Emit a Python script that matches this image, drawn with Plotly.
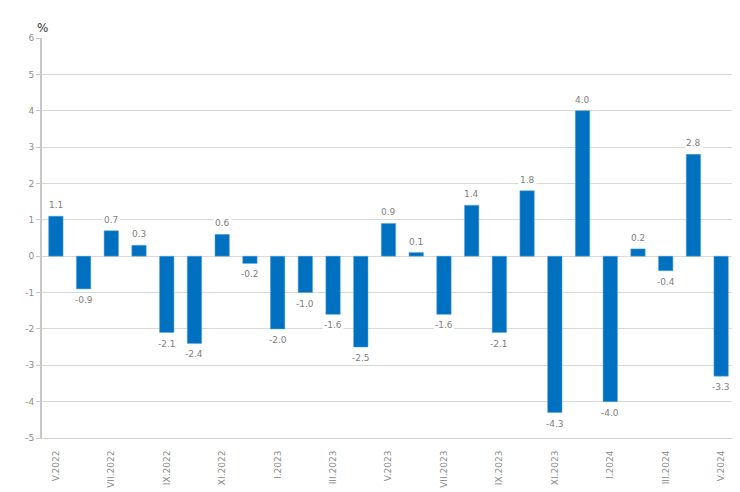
import plotly.graph_objects as go

months = ["V.2022", "VI.2022", "VII.2022", "VIII.2022", "IX.2022", "X.2022", "XI.2022", "XII.2022",
          "I.2023", "II.2023", "III.2023", "IV.2023", "V.2023", "VI.2023", "VII.2023", "VIII.2023",
          "IX.2023", "X.2023", "XI.2023", "XII.2023", "I.2024", "II.2024", "III.2024", "IV.2024", "V.2024"]
values = [1.1, -0.9, 0.7, 0.3, -2.1, -2.4, 0.6, -0.2, -2.0, -1.0, -1.6, -2.5, 0.9, 0.1, -1.6, 1.4,
          -2.1, 1.8, -4.3, 4.0, -4.0, 0.2, -0.4, 2.8, -3.3]
shown_ticks = months[::2]
y_ticks = list(range(-5, 7))

grey = "#8c8c8c"
fig = go.Figure()
fig.add_trace(go.Bar(x=months, y=values, marker=dict(color="#0070c0", line=dict(color="#5aa6dc", width=0.5)),
                     width=0.52, hoverinfo="x+y"))

for m, v in zip(months, values):
    fig.add_annotation(x=m, y=v, text=f"{v:.1f}", showarrow=False, yshift=11 if v >= 0 else -11,
                       font=dict(family="DejaVu Sans", size=9, color="#808080"),
                       bgcolor="white", borderpad=1)

fig.add_annotation(xref="paper", yref="paper", x=0.0, y=1.0, xanchor="center", yshift=19, text="%",
                   showarrow=False, font=dict(family="DejaVu Sans", size=12, color="#333"))

fig.update_layout(width=740, height=492, margin=dict(l=34, r=13, t=30, b=58),
                  plot_bgcolor="white", paper_bgcolor="white", showlegend=False)
fig.update_yaxes(range=[-5, 6], tickmode="array", tickvals=y_ticks, ticktext=[str(t) for t in y_ticks],
                 showgrid=True, gridcolor="#d9d9d9", gridwidth=1,
                 zeroline=True, zerolinecolor="#d9d9d9", zerolinewidth=1,
                 showline=True, linecolor="#c8c8c8", linewidth=2,
                 ticks="outside", ticklen=4, tickcolor="#c8c8c8",
                 tickfont=dict(family="DejaVu Sans", size=9, color=grey))
fig.update_xaxes(tickmode="array", tickvals=shown_ticks, ticktext=shown_ticks, tickangle=-90,
                 ticklabelstandoff=8,
                 showline=True, linecolor="#d0d0d0", linewidth=1, showgrid=False,
                 tickfont=dict(family="DejaVu Sans", size=9, color=grey))

fig.write_html("out.html")
